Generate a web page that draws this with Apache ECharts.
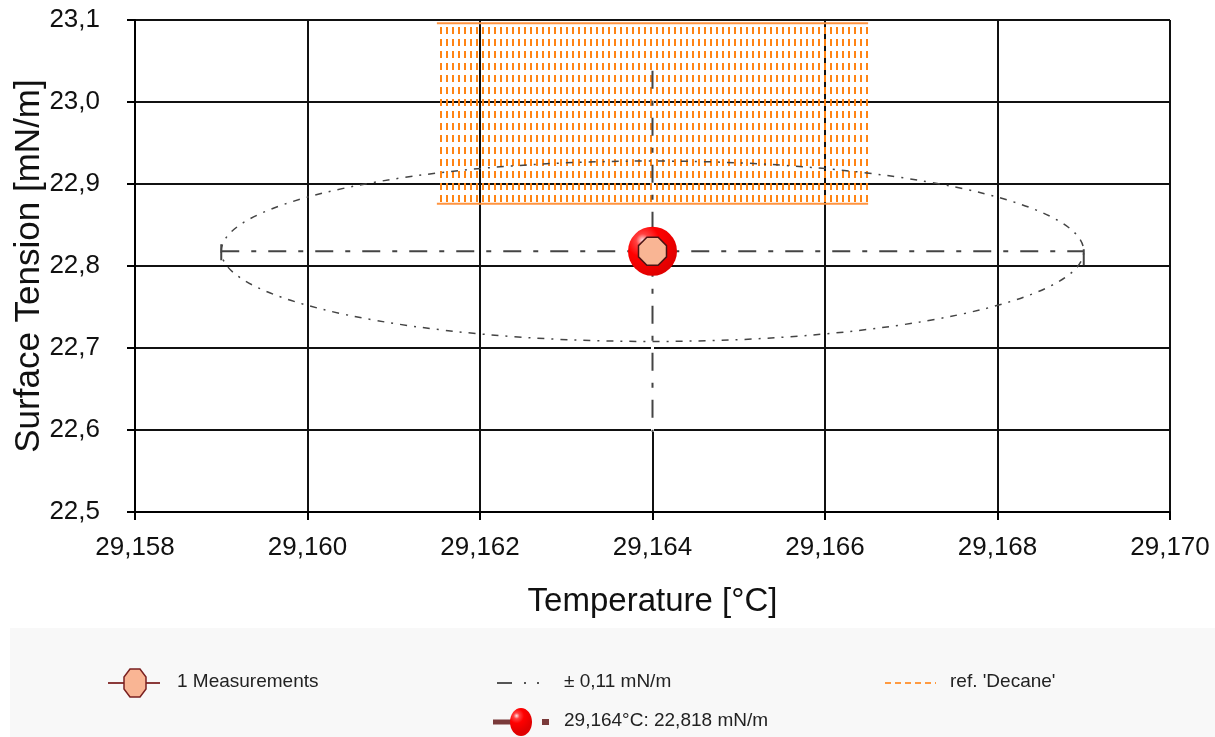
<!DOCTYPE html>
<html>
<head>
<meta charset="utf-8">
<style>
html,body{margin:0;padding:0;background:#fff;}
#chart{width:1215px;height:737px;}
</style>
<script src="https://cdn.jsdelivr.net/npm/echarts@6/dist/echarts.min.js"></script>
</head>
<body>
<div id="chart"></div>
<script>
// ---- data ----
var xTicks = [29.158, 29.160, 29.162, 29.164, 29.166, 29.168, 29.170];
var yTicks = [22.5, 22.6, 22.7, 22.8, 22.9, 23.0, 23.1];
var measurementTemps = [29.164];
var measurementTensions = [22.818];
var meanPoint = [29.164, 22.818];
var tempSpread = [0.005];          // half width of ellipse / horizontal cross
var tensionSpread = [0.11];        // half height of ellipse
var tensionCross = [0.22];         // half length of vertical cross
var refTemps = [29.1615, 29.1665]; // ref. 'Decane' band
var refTensions = [22.876, 23.096];
var legendLabels = ['1 Measurements', '\u00b1 0,11 mN/m', "ref. 'Decane'", '29,164\u00b0C: 22,818 mN/m'];

var chart = echarts.init(document.getElementById('chart'), null, {renderer: 'canvas'});

// hatch pattern for the reference band
var pc = document.createElement('canvas');
pc.width = 6; pc.height = 12;
var pctx = pc.getContext('2d');
pctx.fillStyle = '#ff8414';
pctx.fillRect(2, 3, 2, 7);

var FONT = '"Liberation Sans", Arial, sans-serif';
var octagon = 'path://M30,0 L70,0 L100,30 L100,70 L70,100 L30,100 L0,70 L0,30 Z';
var redGrad = new echarts.graphic.RadialGradient(0.3, 0.28, 0.75, [
  {offset: 0, color: '#ffe6e6'},
  {offset: 0.18, color: '#ff4040'},
  {offset: 0.45, color: '#ff0000'},
  {offset: 1, color: '#e00000'}
]);

var measData = measurementTemps.map(function (t, i) { return [t, measurementTensions[i]]; });

var option = {
  animation: false,
  grid: {left: 135, right: 45, top: 20, bottom: 225, containLabel: false, outerBoundsMode: 'none'},
  xAxis: {
    type: 'value', min: 29.158, max: 29.170, interval: 0.002,
    name: 'Temperature [\u00b0C]', nameLocation: 'middle', nameGap: 73,
    nameTextStyle: {fontFamily: FONT, fontSize: 33, color: '#111'},
    axisLine: {show: true, onZero: false, lineStyle: {color: '#000', width: 2}},
    axisTick: {show: true, inside: false, length: 8, lineStyle: {color: '#000', width: 2}},
    axisLabel: {margin: 23, fontFamily: FONT, fontSize: 26, color: '#111',
      formatter: function (v) { return v.toFixed(3).replace('.', ','); }},
    splitLine: {show: true, lineStyle: {color: '#111', width: 2}}
  },
  yAxis: {
    type: 'value', min: 22.5, max: 23.1, interval: 0.1,
    name: 'Surface Tension [mN/m]', nameLocation: 'middle', nameGap: 88, nameMoveOverlap: false,
    nameTextStyle: {fontFamily: FONT, fontSize: 35, color: '#111'},
    axisLine: {show: true, onZero: false, lineStyle: {color: '#000', width: 2}},
    axisTick: {show: true, inside: false, length: 8, lineStyle: {color: '#000', width: 2}},
    axisLabel: {margin: 35, fontFamily: FONT, fontSize: 26, color: '#111',
      formatter: function (v) { return v.toFixed(1).replace('.', ','); }},
    splitLine: {show: true, lineStyle: {color: '#111', width: 2}}
  },
  series: [
    {
      // the centre gridline is hidden behind the vertical spread line
      type: 'custom', z: 2, silent: true,
      encode: {x: 0, y: 1},
      data: [[meanPoint[0], meanPoint[1], tensionCross[0]]],
      renderItem: function (params, api) {
        var t = api.value(0), s = api.value(1), dc = api.value(2);
        var cb = api.coord([t, s - dc]);
        var top = params.coordSys.y;
        return {type: 'line', shape: {x1: cb[0], y1: top + 1, x2: cb[0], y2: cb[1]},
          style: {stroke: '#fff', lineWidth: 3}};
      }
    },
    {
      type: 'custom', name: legendLabels[2], z: 3,
      encode: {x: [0, 2], y: [1, 3]},
      data: [[refTemps[0], refTensions[0], refTemps[1], refTensions[1]]],
      renderItem: function (params, api) {
        var a = api.coord([api.value(0), api.value(3)]);
        var b = api.coord([api.value(2), api.value(1)]);
        var stroke = '#ff9440';
        return {type: 'group', children: [
          {type: 'rect', shape: {x: a[0], y: a[1], width: b[0] - a[0], height: b[1] - a[1]},
            style: {fill: {image: pc, repeat: 'repeat'}, stroke: null}},
          {type: 'line', shape: {x1: a[0], y1: a[1], x2: b[0], y2: a[1]}, style: {stroke: stroke, lineWidth: 2}},
          {type: 'line', shape: {x1: a[0], y1: b[1], x2: b[0], y2: b[1]}, style: {stroke: stroke, lineWidth: 2}}
        ]};
      }
    },
    {
      type: 'custom', name: legendLabels[1], z: 4,
      encode: {x: 0, y: 1},
      data: [[meanPoint[0], meanPoint[1], tempSpread[0], tensionSpread[0], tensionCross[0]]],
      renderItem: function (params, api) {
        var t = api.value(0), s = api.value(1), dt = api.value(2), ds = api.value(3), dc = api.value(4);
        var c = api.coord([t, s]);
        var l = api.coord([t - dt, s]);
        var r = api.coord([t + dt, s]);
        var et = api.coord([t, s + ds]);
        var ct = api.coord([t, s + dc]);
        var cb = api.coord([t, s - dc]);
        var col = '#444';
        return {type: 'group', children: [
          {type: 'ellipse', shape: {cx: c[0], cy: c[1], rx: r[0] - c[0], ry: c[1] - et[1]},
            style: {fill: null, stroke: col, lineWidth: 1.5, lineDash: [7, 7, 2, 7]}},
          {type: 'line', shape: {x1: l[0], y1: l[1], x2: r[0], y2: r[1]},
            style: {stroke: col, lineWidth: 2, lineDash: [18, 12, 5, 12]}},
          {type: 'line', shape: {x1: ct[0], y1: ct[1], x2: cb[0], y2: cb[1]},
            style: {stroke: col, lineWidth: 2, lineDash: [18, 12, 5, 12]}},
          {type: 'line', shape: {x1: l[0], y1: l[1] - 7, x2: l[0], y2: l[1] + 9}, style: {stroke: col, lineWidth: 2}},
          {type: 'line', shape: {x1: r[0], y1: r[1] - 2, x2: r[0], y2: r[1] + 14}, style: {stroke: col, lineWidth: 2}}
        ]};
      }
    },
    {
      type: 'scatter', name: legendLabels[3], z: 5,
      symbol: 'circle', symbolSize: 49,
      itemStyle: {color: redGrad, opacity: 1},
      data: [meanPoint]
    },
    {
      type: 'scatter', name: legendLabels[0], z: 6,
      symbol: octagon, symbolSize: 28,
      itemStyle: {color: '#f9b594', borderColor: '#4a1414', borderWidth: 1.5, opacity: 1},
      data: measData
    }
  ],
  graphic: [
    {type: 'rect', z: 0, shape: {x: 10, y: 628, width: 1205, height: 109}, style: {fill: '#f8f8f8'}},
    // measurements
    {type: 'line', shape: {x1: 108, y1: 683, x2: 160, y2: 683}, style: {stroke: '#8b3a3a', lineWidth: 2}},
    {type: 'polygon', shape: {points: [[130, 669], [140, 669], [146, 677], [146, 689], [140, 697], [130, 697], [124, 689], [124, 677]]},
      style: {fill: '#f9b594', stroke: '#7a2020', lineWidth: 1.5}},
    {type: 'text', left: 177, top: 672, style: {text: legendLabels[0], font: '19px ' + FONT, fill: '#222'}},
    // spread
    {type: 'line', shape: {x1: 497, y1: 683, x2: 550, y2: 683}, style: {stroke: '#555', lineWidth: 2, lineDash: [15, 12, 2, 11, 2, 100]}},
    {type: 'text', left: 564, top: 672, style: {text: legendLabels[1], font: '19px ' + FONT, fill: '#222'}},
    // ref
    {type: 'line', shape: {x1: 885, y1: 683, x2: 936, y2: 683}, style: {stroke: '#ff9a40', lineWidth: 2, lineDash: [6, 4]}},
    {type: 'text', left: 950, top: 672, style: {text: legendLabels[2], font: '19px ' + FONT, fill: '#222'}},
    // mean
    {type: 'line', shape: {x1: 493, y1: 722, x2: 515, y2: 722}, style: {stroke: '#7a3a3a', lineWidth: 5}},
    {type: 'rect', shape: {x: 542, y: 719, width: 7, height: 6}, style: {fill: '#7a3a3a'}},
    {type: 'ellipse', shape: {cx: 521, cy: 722, rx: 11, ry: 14}, style: {fill: redGrad}},
    {type: 'text', left: 564, top: 711, style: {text: legendLabels[3], font: '19px ' + FONT, fill: '#222'}}
  ]
};
chart.setOption(option);
</script>
</body>
</html>
